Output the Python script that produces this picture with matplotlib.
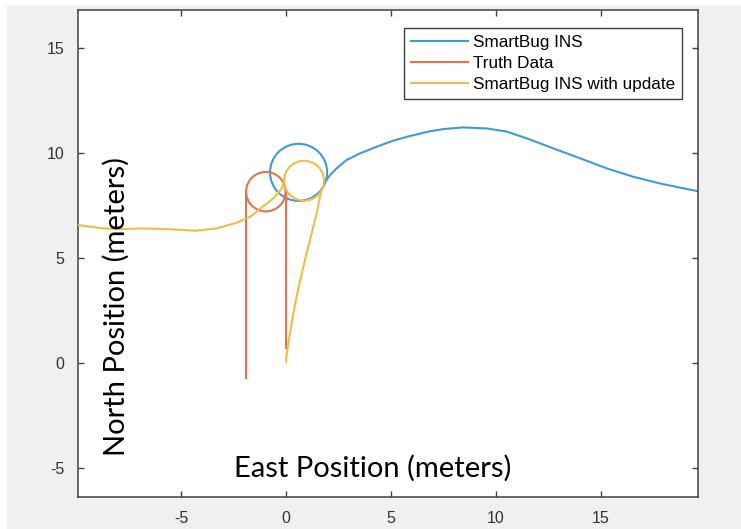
import matplotlib.pyplot as plt
from matplotlib.patches import Circle, Rectangle

plt.rcParams['axes.unicode_minus'] = False

# INS track: loop centre/radius, then the path leaving the loop
ins_loop_center = (0.60, 9.08)
ins_loop_radius = 1.36
ins_east = [1.86, 2.10, 2.41, 2.89, 3.52, 4.32, 5.11, 5.90, 6.78, 7.50, 8.44,
            9.56, 10.51, 11.46, 12.73, 14.00, 15.27, 16.54, 17.81, 19.71]
ins_north = [8.63, 8.95, 9.27, 9.67, 9.98, 10.30, 10.59, 10.81, 11.02, 11.14, 11.22,
             11.17, 11.02, 10.70, 10.22, 9.75, 9.27, 8.87, 8.55, 8.16]

# truth: two straight legs joined by a loop
truth_loop_center = (-0.96, 8.16)
truth_loop_radius = 0.94
truth_left_east = [-1.90, -1.90]
truth_left_north = [-0.70, 8.16]
truth_right_east = [-0.02, -0.02]
truth_right_north = [8.16, 0.70]

# INS with update
upd_loop_center = (0.86, 8.68)
upd_loop_radius = 0.95
upd_left_east = [-9.9, -8.7, -7.8, -6.8, -5.5, -4.3, -3.3, -2.35, -1.7, -1.1,
                 -0.6, -0.2, -0.09]
upd_left_north = [6.57, 6.41, 6.38, 6.41, 6.37, 6.30, 6.41, 6.68, 6.97, 7.45,
                  7.84, 8.32, 8.68]
upd_down_east = [1.65, 1.46, 1.22, 0.98, 0.75, 0.54, 0.35, 0.19, 0.06, 0.0]
upd_down_north = [8.08, 7.13, 6.17, 5.22, 4.27, 3.32, 2.37, 1.41, 0.62, 0.06]

xticks = [-5, 0, 5, 10, 15]
yticks = [-5, 0, 5, 10, 15]

c_blue = '#3f9bd6'
c_red = '#df7550'
c_yel = '#efbd45'
lw = 1.5

fig = plt.figure(figsize=(7.41, 5.29), dpi=100, facecolor='#f0f0f0')
# white strips along the left and top edges
fig.patches.append(Rectangle((0, 0), 7 / 741, 1, transform=fig.transFigure,
                             facecolor='white', edgecolor='none', zorder=-5))
fig.patches.append(Rectangle((0, 1 - 5 / 529), 1, 5 / 529, transform=fig.transFigure,
                             facecolor='white', edgecolor='none', zorder=-5))

ax = fig.add_axes([78 / 741, 1 - 497 / 529, 620 / 741, 487 / 529])

ax.plot(ins_east, ins_north, color=c_blue, lw=lw, label='SmartBug INS', zorder=2)
ax.add_patch(Circle(ins_loop_center, ins_loop_radius, fill=False,
                    edgecolor=c_blue, lw=lw, zorder=2))

ax.plot(truth_left_east, truth_left_north, color=c_red, lw=lw, label='Truth Data', zorder=3)
ax.plot(truth_right_east, truth_right_north, color=c_red, lw=lw, zorder=3)
ax.add_patch(Circle(truth_loop_center, truth_loop_radius, fill=False,
                    edgecolor=c_red, lw=lw, zorder=3))

ax.plot(upd_left_east, upd_left_north, color=c_yel, lw=lw,
        label='SmartBug INS with update', zorder=4)
ax.plot(upd_down_east, upd_down_north, color=c_yel, lw=lw, zorder=4)
ax.add_patch(Circle(upd_loop_center, upd_loop_radius, fill=False,
                    edgecolor=c_yel, lw=lw, zorder=4))

ax.set_xlim(-9.905, 19.62)
ax.set_ylim(-6.38, 16.81)
ax.set_xticks(xticks)
ax.set_yticks(yticks)
ax.tick_params(direction='in', top=True, right=True, length=4, width=1,
               color='#404040', labelcolor='#333333', labelsize=11.5, pad=10)
for lab in ax.get_xticklabels() + ax.get_yticklabels():
    lab.set_family('Liberation Sans')
for sp in ax.spines.values():
    sp.set_color('#404040')
    sp.set_linewidth(1.1)

leg = ax.legend(loc='upper right', bbox_to_anchor=(0.974, 0.963), borderaxespad=0,
                fancybox=False, framealpha=1, edgecolor='#404040',
                prop={'family': 'Liberation Sans', 'size': 12.3},
                handlelength=3.3, handletextpad=0.3, labelspacing=0.35,
                borderpad=0.4)
leg.get_frame().set_linewidth(1.0)

# axis titles sit inside the plot area
fig.text(373 / 741, 1 - 468 / 529, 'East Position (meters)', family='Lato',
         fontsize=21, ha='center', va='center', color='black')
fig.text(116 / 741, 1 - 307 / 529, 'North Position (meters)', family='Lato',
         fontsize=21, ha='center', va='center', rotation=90, color='black')

fig.savefig('out.png', dpi=100, facecolor=fig.get_facecolor())
